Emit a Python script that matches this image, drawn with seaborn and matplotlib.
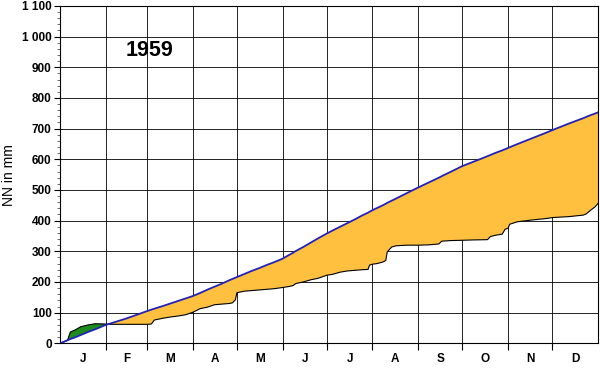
import numpy as np
import pandas as pd
import matplotlib.pyplot as plt
import seaborn as sns

# day of year, long-term mean cumulative precip, 1959 cumulative precip (mm)
day = [0, 5, 7, 10, 14, 19, 24, 31, 33, 45, 59, 62, 64, 70, 75, 80, 85, 90,
       95, 100, 105, 110, 115, 117, 119, 120, 125, 130, 135, 140, 145, 151,
       155, 158, 160, 165, 170, 175, 181, 185, 190, 195, 200, 205, 209, 210,
       212, 215, 219, 221, 222, 225, 228, 235, 243, 250, 257, 259, 265, 273,
       280, 290, 292, 295, 300, 302, 304, 305, 310, 320, 330, 334,
       345, 355, 357, 360, 363, 365]
mean_mm = [0, 10, 14, 19, 27, 37, 46, 60, 63, 81, 105, 110, 113, 122, 130, 138, 146, 154,
           164, 175, 185, 195, 206, 210, 214, 216, 226, 236, 245, 255, 264, 276,
           287, 295, 301, 314, 328, 342, 358, 368, 380, 392, 404, 417, 426, 429,
           434, 441, 450, 455, 458, 465, 472, 489, 508, 524, 540, 545, 559, 578,
           591, 610, 614, 620, 629, 633, 637, 639, 649, 668, 687, 695,
           716, 734, 738, 744, 749, 753]
year_mm = [0, 9, 37, 43, 54, 60, 64, 63, 62, 62, 62, 63, 76, 82, 86, 89, 93, 101,
           113, 118, 126, 128, 130, 132, 142, 165, 170, 172, 174, 176, 178, 182,
           185, 188, 195, 200, 207, 212, 222, 225, 232, 236, 238, 240, 241, 255,
           258, 260, 265, 270, 298, 314, 318, 320, 320, 321, 324, 333, 335, 336,
           337, 338, 348, 352, 356, 372, 375, 388, 396, 402, 407, 410,
           413, 418, 422, 434, 445, 456]

month_start = [0, 31, 59, 90, 120, 151, 181, 212, 243, 273, 304, 334, 365]
month_labels = ["J", "F", "M", "A", "M", "J", "J", "A", "S", "O", "N", "D"]
y_ticks = list(range(0, 1101, 100))
y_labels = ["0", "100", "200", "300", "400", "500", "600", "700", "800", "900",
            "1 000", "1 100"]

df = pd.DataFrame({"day": day, "mean": mean_mm, "year": year_mm})

sns.set_theme(style="white", rc={"text.color": "black", "axes.labelcolor": "black",
                                 "xtick.color": "black", "ytick.color": "black"})
plt.rcParams["font.family"] = ["Liberation Sans", "DejaVu Sans"]

fig = plt.figure(figsize=(6, 3.68), dpi=100)
ax = fig.add_axes([0.1, 0.067, 0.8967, 0.917])

ax.fill_between(df["day"], df["mean"], df["year"], where=df["year"] >= df["mean"],
                color="#1c8a1c", interpolate=True, lw=0, zorder=2)
ax.fill_between(df["day"], df["mean"], df["year"], where=df["year"] <= df["mean"],
                color="#ffc040", interpolate=True, lw=0, zorder=2)

sns.lineplot(data=df, x="day", y="year", estimator=None, sort=False,
             color="black", lw=0.8, ax=ax, zorder=3)
sns.lineplot(data=df, x="day", y="mean", estimator=None, sort=False,
             color="#2222bb", lw=1.3, ax=ax, zorder=4)

ax.set_xlim(0, 365)
ax.set_ylim(0, 1100)

# month grid + centered labels
ax.set_xticks(month_start[1:-1])
ax.set_xticklabels([])
mids = [(a + b) / 2 for a, b in zip(month_start[:-1], month_start[1:])]
ax.set_xticks(mids, minor=True)
ax.set_xticklabels(month_labels, minor=True, fontweight="bold", fontsize=8.5)
ax.tick_params(axis="x", which="major", direction="out", length=5, width=0.8,
               color="black", bottom=True)
ax.tick_params(axis="x", which="minor", length=0, pad=7)

ax.set_yticks(y_ticks)
ax.set_yticklabels(y_labels, fontweight="bold", fontsize=8.5)
ax.set_yticks(range(0, 1101, 20), minor=True)
ax.tick_params(axis="y", which="major", direction="out", length=4, width=0.8,
               color="black", left=True, pad=2)
ax.tick_params(axis="y", which="minor", direction="out", length=2, width=0.6,
               color="#555555", left=True)

ax.grid(True, which="major", color="black", lw=0.6)
ax.set_axisbelow(True)
for s in ax.spines.values():
    s.set_color("black")
    s.set_linewidth(0.8)

ax.set_xlabel("")
ax.set_ylabel("NN in mm", fontsize=10, labelpad=4)
ax.text(61, 956, "1959", fontsize=15.5, fontweight="bold", ha="center", va="center")

fig.savefig("out.png", dpi=100)
